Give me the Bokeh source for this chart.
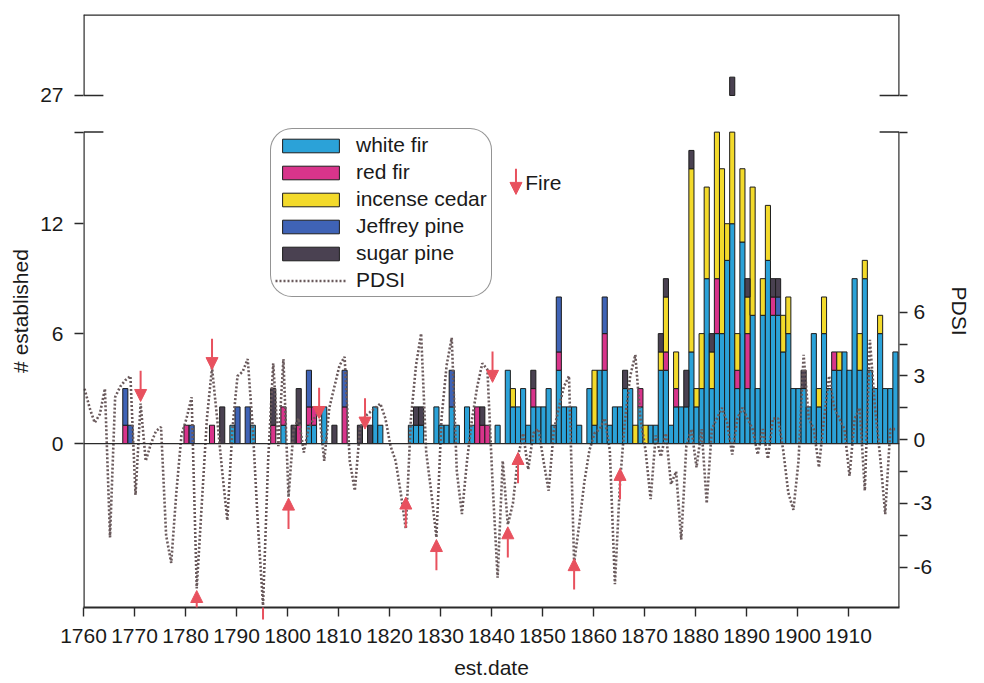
from bokeh.plotting import figure
from bokeh.models import (Range1d, LinearAxis, FixedTicker, Span, Legend, LegendItem,
                          Arrow, NormalHead, Label, ColumnDataSource)
from bokeh.embed import file_html
from bokeh.resources import INLINE

# ---------------- data ----------------
years = list(range(1760, 1920))

white_fir = [
    0, 0, 0, 0, 0, 0, 0, 0, 0, 0,      # 1760s
    0, 0, 0, 0, 0, 0, 0, 0, 0, 0,      # 1770s
    0, 0, 0, 0, 0, 0, 0, 0, 0, 1,      # 1780s
    0, 0, 0, 1, 0, 0, 0, 0, 0, 1,      # 1790s
    0, 0, 0, 0, 1, 1, 0, 2, 0, 0,      # 1800s
    0, 0, 0, 0, 0, 0, 0, 2, 1, 0,      # 1810s
    0, 0, 0, 0, 1, 1, 1, 0, 0, 2,      # 1820s
    1, 1, 2, 1, 0, 2, 1, 0, 0, 0,      # 1830s
    0, 1, 0, 4, 2, 2, 3, 1, 2, 2,      # 1840s
    2, 3, 1, 4, 2, 2, 2, 1, 0, 3,      # 1850s
    1, 4, 4, 1, 2, 2, 3, 3, 0, 2,      # 1860s
    0, 1, 1, 4, 4, 1, 2, 2, 2, 5,      # 1870s
    2, 3, 9, 3, 6, 6, 10, 12, 3, 11,   # 1880s
    3, 7, 3, 7, 10, 7, 7, 5, 6, 3,     # 1890s
    3, 3, 2, 6, 2, 6, 3, 4, 4, 5,      # 1900s
    4, 9, 4, 9, 4, 3, 6, 3, 3, 5,      # 1910s
]
red_fir = [
    0, 0, 0, 0, 0, 0, 0, 0, 1, 0,
    0, 0, 0, 0, 0, 0, 0, 0, 0, 0,
    1, 0, 0, 0, 0, 1, 0, 0, 0, 0,
    0, 0, 0, 0, 0, 0, 0, 1, 0, 1,
    0, 0, 1, 0, 1, 1, 0, 0, 0, 0,
    0, 2, 0, 0, 0, 0, 0, 0, 0, 0,
    0, 0, 0, 0, 0, 0, 0, 0, 0, 0,
    0, 0, 0, 0, 0, 0, 0, 2, 1, 1,
    0, 0, 0, 0, 0, 0, 0, 0, 1, 0,
    0, 0, 0, 1, 0, 0, 0, 0, 0, 0,
    0, 0, 2, 0, 0, 0, 0, 0, 0, 1,
    0, 0, 0, 0, 1, 0, 1, 0, 0, 0,
    0, 0, 0, 0, 3, 0, 0, 0, 1, 0,
    3, 0, 0, 0, 0, 1, 0, 0, 0, 0,
    0, 0, 0, 0, 0, 0, 0, 1, 0, 0,
    0, 0, 0, 0, 0, 0, 0, 0, 0, 0,
]
incense_cedar = [
    0, 0, 0, 0, 0, 0, 0, 0, 0, 0,
    0, 0, 0, 0, 0, 0, 0, 0, 0, 0,
    0, 0, 0, 0, 0, 0, 0, 0, 0, 0,
    0, 0, 0, 0, 0, 0, 0, 0, 0, 0,
    0, 0, 0, 0, 0, 0, 0, 0, 0, 0,
    0, 0, 0, 0, 0, 0, 0, 0, 0, 0,
    0, 0, 0, 0, 0, 0, 0, 0, 0, 0,
    0, 0, 0, 0, 0, 0, 0, 0, 0, 0,
    0, 0, 0, 0, 1, 0, 0, 0, 0, 0,
    0, 0, 0, 0, 0, 0, 0, 0, 0, 0,
    3, 0, 0, 0, 0, 0, 0, 0, 1, 0,
    1, 0, 0, 1, 3, 0, 2, 0, 0, 10,
    1, 3, 5, 2, 10, 9, 2, 14, 2, 4,
    2, 7, 0, 2, 3, 0, 0, 2, 2, 0,
    0, 0, 0, 0, 1, 2, 0, 0, 1, 0,
    0, 0, 2, 1, 0, 0, 1, 0, 0, 0,
]
jeffrey_pine = [
    0, 0, 0, 0, 0, 0, 0, 0, 2, 1,
    0, 0, 0, 0, 0, 0, 0, 0, 0, 0,
    0, 1, 0, 0, 0, 0, 0, 0, 0, 0,
    2, 0, 2, 0, 0, 0, 0, 0, 0, 0,
    0, 0, 0, 0, 2, 0, 0, 0, 0, 0,
    0, 2, 0, 0, 0, 0, 0, 0, 0, 0,
    0, 0, 0, 0, 0, 0, 0, 0, 0, 0,
    0, 0, 2, 0, 0, 0, 0, 0, 0, 0,
    0, 0, 0, 0, 0, 0, 0, 0, 0, 0,
    0, 0, 0, 3, 0, 0, 0, 0, 0, 0,
    0, 0, 2, 0, 0, 0, 0, 0, 0, 0,
    0, 0, 0, 0, 0, 0, 0, 0, 0, 0,
    0, 0, 0, 0, 0, 0, 0, 0, 0, 0,
    0, 0, 0, 0, 0, 0, 1, 0, 0, 0,
    0, 0, 0, 0, 0, 0, 0, 0, 0, 0,
    0, 0, 0, 0, 0, 0, 0, 0, 0, 0,
]
sugar_pine = [
    0, 0, 0, 0, 0, 0, 0, 0, 0, 0,
    0, 0, 0, 0, 0, 0, 0, 0, 0, 0,
    0, 0, 0, 0, 0, 0, 0, 2, 0, 0,
    0, 0, 0, 0, 0, 0, 0, 2, 0, 0,
    0, 1, 2, 0, 0, 0, 0, 0, 0, 1,
    0, 0, 0, 0, 1, 0, 1, 0, 0, 0,
    0, 0, 0, 0, 0, 1, 1, 0, 0, 0,
    0, 0, 0, 0, 0, 0, 0, 0, 1, 0,
    0, 0, 0, 0, 0, 0, 0, 0, 1, 0,
    0, 0, 0, 0, 0, 0, 0, 0, 0, 0,
    0, 0, 0, 0, 0, 0, 1, 0, 0, 0,
    0, 0, 0, 1, 1, 0, 0, 0, 2, 1,
    0, 0, 0, 1, 0, 0, 0, 2, 0, 0,
    1, 0, 0, 0, 0, 1, 1, 0, 0, 0,
    0, 1, 0, 0, 0, 0, 0, 0, 0, 0,
    0, 0, 0, 0, 0, 0, 0, 0, 0, 0,
]
pdsi = [
    2.4, 1.5, 0.8, 1.2, 2.4, -4.6, 2.0, 2.5, 2.8, 3.0,
    -2.6, 1.7, -1.0, -0.2, 0.4, 0.6, -4.5, -5.8, -2.5, 0.2,
    1.0, 2.0, -7.0, -3.0, 1.0, 3.4, 1.0, -1.5, -3.8, 0.5,
    3.0, 3.2, 3.8, 0.5, -4.0, -7.8, -1.0, 3.6, -0.3, 3.8,
    -2.7, 0.5, 1.0, -0.6, 0.6, 1.0, 1.3, -1.0, 1.5, 2.5,
    3.5, 3.9, -1.0, -2.4, 0.5, 1.1, 1.3, 1.5, 1.7, 1.0,
    -0.3, -1.0, -2.5, -4.2, 1.0, 3.5, 5.0, -0.6, -2.5, -4.6,
    1.0, 3.5, 4.8, -1.5, -3.5, -1.0, 1.0, 2.5, 3.6, 3.3,
    -2.0, -6.5, -1.0, -4.0, -3.0, -0.8, 0.3, -1.4, 0.3, 0.5,
    -1.0, -2.4, 0.4, 1.5, 2.5, 3.0, -5.8, -4.0, -2.0, -0.5,
    0.3, 0.5, 1.0, -0.5, -6.8, -2.0, 1.0, 3.0, 4.0, 1.0,
    -0.5, -2.8, 0.2, -0.8, 0.3, -2.1, -1.5, -4.7, -0.3, 0.5,
    -1.3, 0.5, -3.0, 0.5, 1.0, 1.5, 0.8, -0.7, 1.0, 1.5,
    1.0, 0.5, -0.7, 0.5, -0.9, 1.0, 1.0, -0.5, -2.5, -3.3,
    -1.0, 4.0, 1.0, 0.5, -1.3, 1.0, 3.0, 1.5, 1.0, 0.5,
    -1.7, 1.0, 1.5, -2.4, 4.7, 1.5, -0.8, -3.5, 0.5, 0.5,
]

fire_down_years = [1771, 1785, 1806, 1815, 1840]
fire_down_tip = [1.8, 3.3, 1.0, 0.5, 2.7]           # PDSI units
fire_up_years = [1782, 1795, 1800, 1823, 1829, 1843, 1845, 1856, 1865]
fire_up_tip = [-7.1, -7.9, -2.75, -2.7, -4.7, -4.1, -0.6, -5.6, -1.35]

x_ticks = [1760, 1770, 1780, 1790, 1800, 1810, 1820, 1830, 1840, 1850,
           1860, 1870, 1880, 1890, 1900, 1910]
left_ticks = [0, 6, 12]
left_break_label = "27"
pdsi_ticks = [-6, -3, 0, 3, 6]
pdsi_minor = [-4.5, -1.5, 1.5, 4.5]

species = ["white fir", "red fir", "incense cedar", "Jeffrey pine", "sugar pine"]
colors = ["#2ba2d8", "#d8348b", "#f3da2b", "#3f63b6", "#4a4151"]

# ---------------- layout constants ----------------
FONT = "Liberation Sans"
X0, X1 = 1760, 1920
Y0, Y1 = -8.95, 23.42        # "# established" (folded) units
P0, P1 = -7.90, 20.02        # PDSI units
BRK_LO, BRK_HI = 17, 27      # values hidden between these
SHIFT = 8                    # 27 is drawn at 19
XOFF = 0.2
ARROW_LEN = 1.45

p = figure(width=984, height=683, x_range=Range1d(X0, X1), y_range=Range1d(Y0, Y1),
           output_backend="svg", toolbar_location=None,
           min_border_left=83, min_border_right=85, min_border_top=14, min_border_bottom=76)
p.extra_y_ranges = {"pdsi": Range1d(P0, P1)}
p.outline_line_color = None
p.xgrid.visible = False
p.ygrid.visible = False
p.background_fill_color = "white"

AX_COL = "#2a2a2a"

# stacked bars with broken axis
base = [0] * len(years)
bar_renderers = []
for name, vals, col in zip(species, [white_fir, red_fir, incense_cedar, jeffrey_pine, sugar_pine], colors):
    xs, bots, tops = [], [], []
    for i, (yr, v) in enumerate(zip(years, vals)):
        if v <= 0:
            continue
        b, t = base[i], base[i] + v
        base[i] = t
        if b < BRK_LO:
            xs.append(yr + XOFF); bots.append(b); tops.append(min(t, BRK_LO))
        if t > BRK_HI:
            xs.append(yr + XOFF); bots.append(max(b, BRK_HI) - SHIFT); tops.append(t - SHIFT)
    src = ColumnDataSource(dict(x=xs, bottom=bots, top=tops))
    r = p.vbar(x="x", width=1.0, bottom="bottom", top="top", source=src,
               fill_color=col, line_color="#1c1c1c", line_width=1)
    bar_renderers.append(r)

# zero line
p.add_layout(Span(location=0, dimension="width", line_color=AX_COL, line_width=1.3))

# PDSI line
pdsi_r = p.line(x=[y + XOFF for y in years], y=pdsi, y_range_name="pdsi",
                line_color="#6a5a5c", line_width=2.6, line_dash="2 2")

# frame pieces (broken left/right spines + top)
p.segment(x0=[X0, X0, X1, X1, X0], y0=[Y0, BRK_HI - SHIFT, Y0, BRK_HI - SHIFT, Y1],
          x1=[X0, X0, X1, X1, X1], y1=[BRK_LO, Y1, BRK_LO, Y1, Y1],
          line_color=AX_COL, line_width=2.4)
# break marks inside the frame
IN = 3.9
p.segment(x0=[X0, X0, X1 - IN, X1 - IN], y0=[BRK_LO, BRK_HI - SHIFT, BRK_LO, BRK_HI - SHIFT],
          x1=[X0 + IN, X0 + IN, X1, X1], y1=[BRK_LO, BRK_HI - SHIFT, BRK_LO, BRK_HI - SHIFT],
          line_color=AX_COL, line_width=1.5)

def to_pdsi(v):
    return round(P0 + (v - Y0) / (Y1 - Y0) * (P1 - P0), 4)

# axes
xa = p.xaxis[0]
xa.ticker = FixedTicker(ticks=x_ticks)
xa.axis_label = "est.date"
ya = p.yaxis[0]
ya.ticker = FixedTicker(ticks=left_ticks + [BRK_LO, BRK_HI - SHIFT])
ya.major_label_overrides = {BRK_LO: "", BRK_HI - SHIFT: left_break_label}
ya.axis_label = "# established"
ya.axis_line_color = None

ra = LinearAxis(y_range_name="pdsi", axis_label="PDSI")
pb1, pb2 = to_pdsi(BRK_LO), to_pdsi(BRK_HI - SHIFT)
ra.ticker = FixedTicker(ticks=pdsi_ticks + [pb1, pb2], minor_ticks=pdsi_minor)
overrides = {pb1: "", pb2: ""}
for t in pdsi_ticks:
    overrides[t] = str(t)
ra.major_label_overrides = overrides
ra.axis_line_color = None
p.add_layout(ra, "right")

for ax in (xa, ya, ra):
    ax.major_label_text_font = FONT
    ax.major_label_text_font_size = "21px"
    ax.major_label_text_color = "#1a1a1a"
    ax.axis_label_text_font = FONT
    ax.axis_label_text_font_size = "21px"
    ax.axis_label_text_font_style = "normal"
    ax.axis_label_text_color = "#1a1a1a"
    ax.major_tick_line_color = AX_COL
    ax.major_tick_line_width = 1.4
    ax.major_tick_in = 0
    ax.minor_tick_line_color = None
xa.axis_line_color = AX_COL
xa.axis_line_width = 2
xa.major_tick_out = 9
xa.major_label_standoff = 12
xa.axis_label_standoff = 10
ya.major_tick_out = 9
ya.major_label_standoff = 11
ya.axis_label_standoff = 5
ra.major_tick_out = 8
ra.minor_tick_out = 8
ra.minor_tick_in = 0
ra.minor_tick_line_color = AX_COL
ra.minor_tick_line_width = 1.4
ra.major_label_standoff = 6
ra.axis_label_standoff = 13

# fire arrows
RED = "#e8515e"
down_src = ColumnDataSource(dict(
    x_start=[y + XOFF for y in fire_down_years], x_end=[y + XOFF for y in fire_down_years],
    y_start=[t + ARROW_LEN for t in fire_down_tip], y_end=fire_down_tip))
up_src = ColumnDataSource(dict(
    x_start=[y + XOFF for y in fire_up_years], x_end=[y + XOFF for y in fire_up_years],
    y_start=[t - ARROW_LEN for t in fire_up_tip], y_end=fire_up_tip))
for src in (down_src, up_src):
    p.add_layout(Arrow(source=src, x_start="x_start", y_start="y_start", x_end="x_end", y_end="y_end",
                       y_range_name="pdsi", line_color=RED, line_width=2,
                       end=NormalHead(size=12, fill_color=RED, line_color=RED)))

# "Fire" key
p.add_layout(Arrow(x_start=1844.8, y_start=15.0, x_end=1844.8, y_end=13.6,
                   line_color=RED, line_width=2,
                   end=NormalHead(size=12, fill_color=RED, line_color=RED)))
p.add_layout(Label(x=1846.6, y=14.25, text="Fire", text_font=FONT, text_font_size="21px",
                   text_baseline="middle", text_color="#1a1a1a"))

# legend
items = [LegendItem(label=n, renderers=[r]) for n, r in zip(species, bar_renderers)]
items.append(LegendItem(label="PDSI", renderers=[pdsi_r]))
leg = Legend(items=items, location=(187, 310), orientation="vertical",
             label_text_font=FONT, label_text_font_size="21px", label_text_color="#1a1a1a",
             glyph_width=71, glyph_height=17, label_height=24, label_standoff=10,
             spacing=3, padding=4, margin=0,
             border_line_color=AX_COL, border_line_width=1.5,
             background_fill_color="white", background_fill_alpha=1.0)
if "border_radius" in Legend.properties():
    leg.border_radius = 22
p.add_layout(leg, "center")

open("out.html", "w").write(file_html(p, INLINE))
